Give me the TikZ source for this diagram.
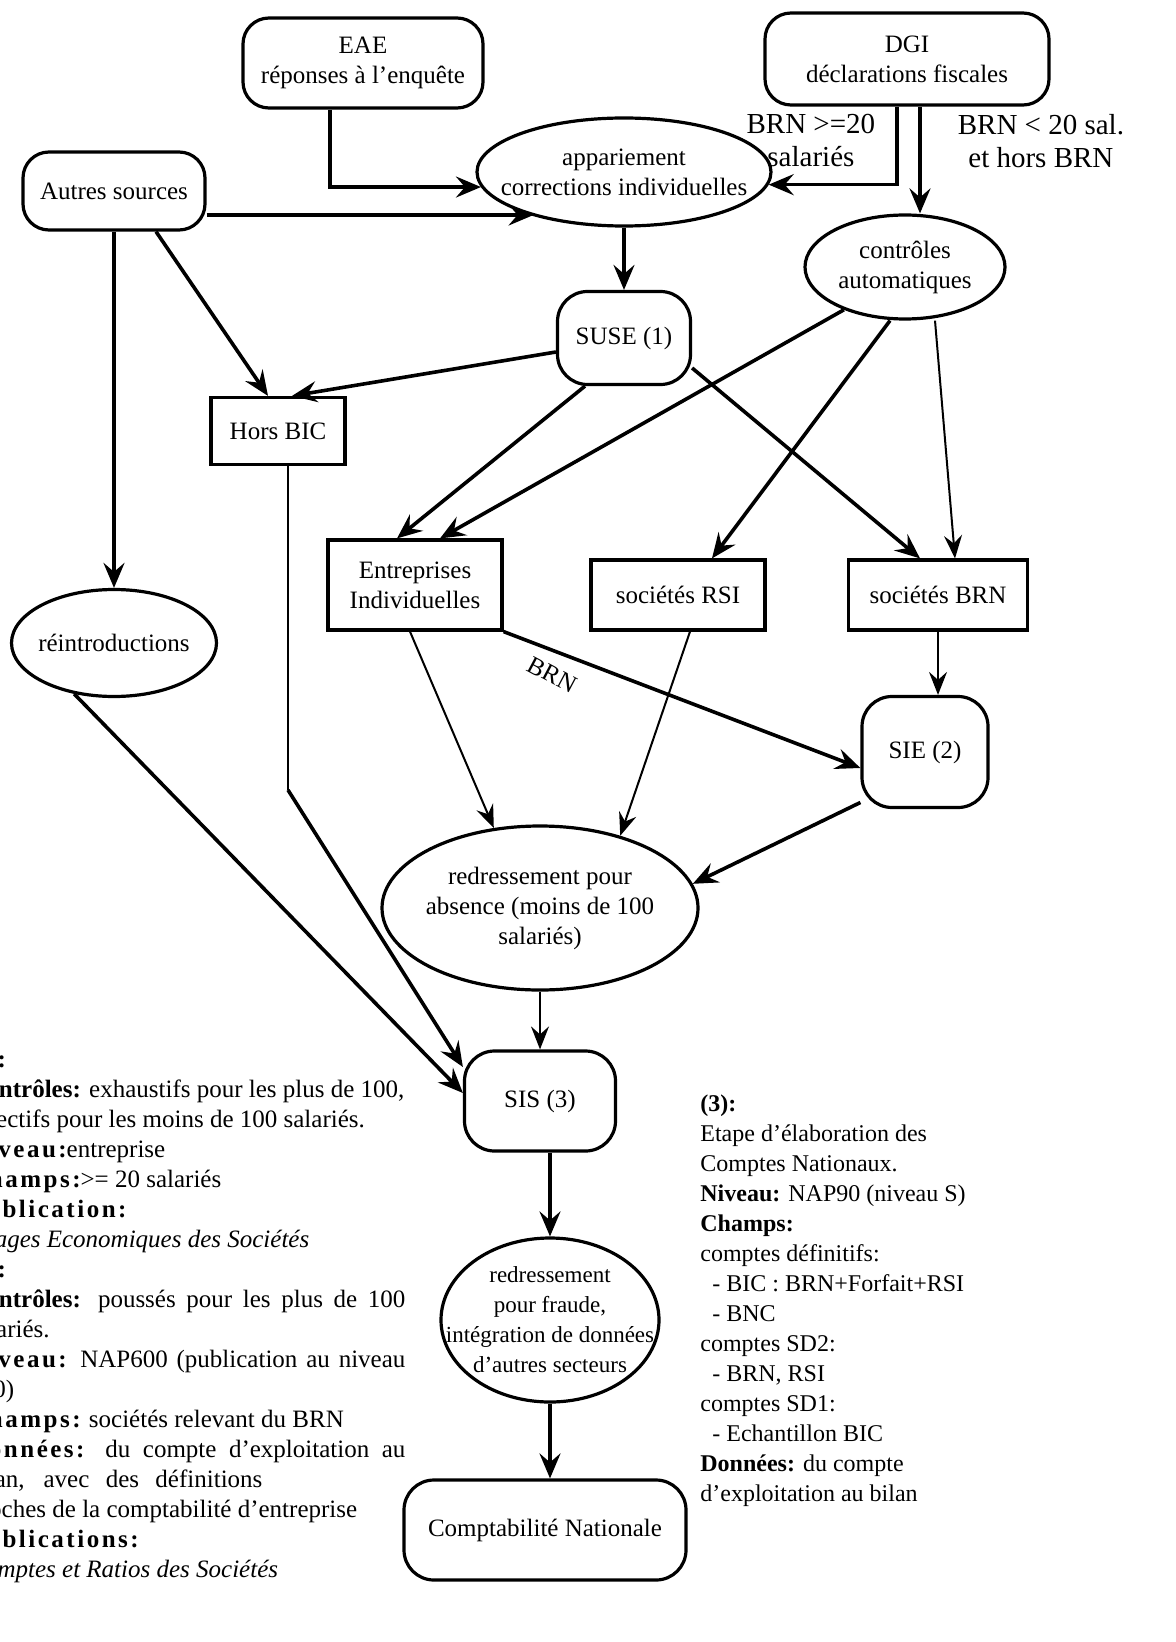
\documentclass[tikz,border=0pt]{standalone}
\usepackage{fontspec}
\setmainfont{Liberation Serif}
\newfontfamily\spacedfont{Liberation Serif}[LetterSpace=10]
\usetikzlibrary{shapes,arrows.meta,positioning}
\tikzstyle{every node}=[font={\rmfamily\fontsize{12.5}{15}\selectfont}, inner sep=0pt]
\tikzstyle{block} = [rectangle, draw, line width=1.6pt, align=center]
\tikzstyle{rblock} = [rectangle, draw, line width=1.6pt, rounded corners=13pt, align=center]
\tikzstyle{cloud} = [ellipse, draw, line width=1.6pt, align=center, inner sep=-12pt]
\tikzstyle{labeltext} = [align=center, font={\rmfamily\fontsize{14.5}{16.5}\selectfont}]
\tikzstyle{note} = [align=left, font={\rmfamily\fontsize{12.5}{15}\selectfont}]
\tikzstyle{line} = [draw, line width=1.8pt, -{Stealth[length=12.5pt, width=10.5pt, inset=4.5pt]}]
\tikzstyle{thinline} = [draw, line width=1pt, -{Stealth[length=11.5pt, width=9pt, inset=4pt]}]
\newcommand{\sbf}[1]{{\spacedfont\bfseries #1}}
\newcommand{\jline}[2][218.5pt]{\makebox[#1][s]{#2}}

\begin{document}
\begin{tikzpicture}[x=0.5pt, y=-0.5pt]
    \useasboundingbox (0,0) rectangle (1176,1642);
    % Place nodes
    \node [rblock, minimum width=120pt, minimum height=45pt] (eae) at (363,63) {EAE\\ réponses à l'enquête};
    \node [rblock, minimum width=142pt, minimum height=46pt] (dgi) at (907,59) {DGI\\ déclarations fiscales};
    \node [rblock, minimum width=91pt, minimum height=39pt] (autres) at (114,191) {Autres sources};
    \node [cloud, minimum width=147pt, minimum height=54pt] (appar) at (624,172) {appariement\\ corrections individuelles};
    \node [cloud, minimum width=100pt, minimum height=52pt] (controles) at (905,267) {contrôles\\ automatiques};
    \node [rblock, rounded corners=15pt, minimum width=66.5pt, minimum height=46.5pt] (suse) at (624,338) {SUSE (1)};
    \node [block, minimum width=67pt, minimum height=33.5pt] (horsbic) at (278,431) {Hors BIC};
    \node [block, minimum width=87pt, minimum height=45pt] (entrep) at (415,585) {Entreprises\\ Individuelles};
    \node [block, minimum width=87pt, minimum height=35pt] (rsi) at (678,595) {sociétés RSI};
    \node [block, minimum width=89.5pt, minimum height=35pt] (brn) at (938,595) {sociétés BRN};
    \node [cloud, minimum width=102.5pt, minimum height=53.5pt] (reintro) at (114,643) {réintroductions};
    \node [rblock, rounded corners=15pt, minimum width=63pt, minimum height=55.5pt] (sie) at (925,752) {SIE (2)};
    \node [cloud, minimum width=158pt, minimum height=82pt] (absence) at (540,908) {redressement pour\\ absence (moins de 100\\ salariés)};
    \node [rblock, rounded corners=15pt, minimum width=75.5pt, minimum height=50pt] (sis) at (540,1101) {SIS (3)};
    \node [cloud, inner sep=-16pt, font={\rmfamily\fontsize{11.5}{15}\selectfont}, minimum width=109pt, minimum height=82pt] (fraude) at (550,1320) {redressement\\ pour fraude,\\ intégration de données\\ d'autres secteurs};
    \node [rblock, rounded corners=15pt, minimum width=141pt, minimum height=50pt] (compta) at (545,1530) {Comptabilité Nationale};

    % notes
    \node [note, anchor=north west] (noteleft) at (-32,1050) {%
        \textbf{(1):}\\
        \textbf{Contrôles:} exhaustifs pour les plus de 100,\\
        sélectifs pour les moins de 100 salariés.\\
        \sbf{Niveau:}entreprise\\
        \sbf{Champs:}>= 20 salariés\\
        \sbf{Publication:}\\
        \textit{Images Economiques des Sociétés}\\
        \textbf{(2):}\\
        \jline{\textbf{Contrôles:} poussés pour les plus de 100}\\
        salariés.\\
        \jline{\sbf{Niveau:} NAP600 (publication au niveau}\\
        100)\\
        \sbf{Champs:} sociétés relevant du BRN\\
        \jline{\sbf{Données:} du compte d'exploitation au}\\
        \jline[147pt]{bilan, avec des définitions}\\
        proches de la comptabilité d'entreprise\\
        \sbf{Publications:}\\
        \textit{Comptes et Ratios des Sociétés}};
    \node [note, anchor=north west, font={\rmfamily\fontsize{12}{15}\selectfont}] (noteright) at (700,1094) {%
        \textbf{(3):}\\
        Etape d'élaboration des\\
        Comptes Nationaux.\\
        \textbf{Niveau:} NAP90 (niveau S)\\
        \textbf{Champs:}\\
        comptes définitifs:\\
        \hspace*{6pt}- BIC : BRN+Forfait+RSI\\
        \hspace*{6pt}- BNC\\
        comptes SD2:\\
        \hspace*{6pt}- BRN, RSI\\
        comptes SD1:\\
        \hspace*{6pt}- Echantillon BIC\\
        \textbf{Données:} du compte\\
        d'exploitation au bilan};

    \coordinate (autresout) at ([yshift=-12pt]autres.east);
    \coordinate (hbend) at (288,790);

    % Draw edges
    \path [line] ([xshift=-16.5pt]eae.south) |- (appar.186);
    \path [line] (autresout) -- (autresout -| appar.206);
    \path [line] ([xshift=-5pt]dgi.south) |- node [pos=0.22, left=10pt, labeltext] {BRN >=20\\ salariés} (appar.355);
    \path [line] ([xshift=6.5pt]dgi.south) -- node [pos=0.32, right=18pt, labeltext] {BRN < 20 sal.\\ et hors BRN} ([xshift=6.5pt]dgi.south |- controles.north);
    \path [line] (appar.south) -- (appar.south |- suse.north);
    \path [line] (autres) -- (reintro);
    \path [line] ([xshift=21pt]autres.south) -- ([xshift=-5pt]horsbic.north);
    \path [line] ([yshift=-7pt]suse.west) -- ([xshift=7pt]horsbic.north);
    \path [line] ([xshift=-19.5pt]suse.south) -- ([xshift=-9pt]entrep.north);
    \path [line] ([yshift=-15pt]suse.east) -- ([xshift=-9pt]brn.north);
    \path [line] (controles.215) -- ([xshift=12.5pt]entrep.north);
    \path [line] ([xshift=-7.5pt]controles.south) -- ([xshift=17pt]rsi.north);
    \path [thinline] ([xshift=15pt]controles.south) -- ([xshift=8.5pt]brn.north);
    \path [line] (entrep.south east) -- node [pos=0.15, below=7pt, rotate=-28] {BRN} ([yshift=-8pt]sie.west);
    \path [thinline] ([xshift=-2.5pt]entrep.south) -- (absence.120);
    \path [thinline] ([xshift=6pt]rsi.south) -- (absence.42);
    \path [thinline] (brn.south) -- (brn.south |- sie.north);
    \path [line] (sie.218) -- (absence.9);
    \draw [line width=1pt] ([xshift=5pt]horsbic.south) -- (hbend);
    \path [line] (hbend) -- ([yshift=17pt]sis.west);
    \path [line] (reintro.232) -- ([yshift=4pt]sis.west);
    \path [thinline] (absence.south) -- (absence.south |- sis.north);
    \path [line] (sis.south -| fraude.north) -- (fraude.north);
    \path [line] (fraude.south) -- (fraude.south |- compta.north);

\end{tikzpicture}
\end{document}
